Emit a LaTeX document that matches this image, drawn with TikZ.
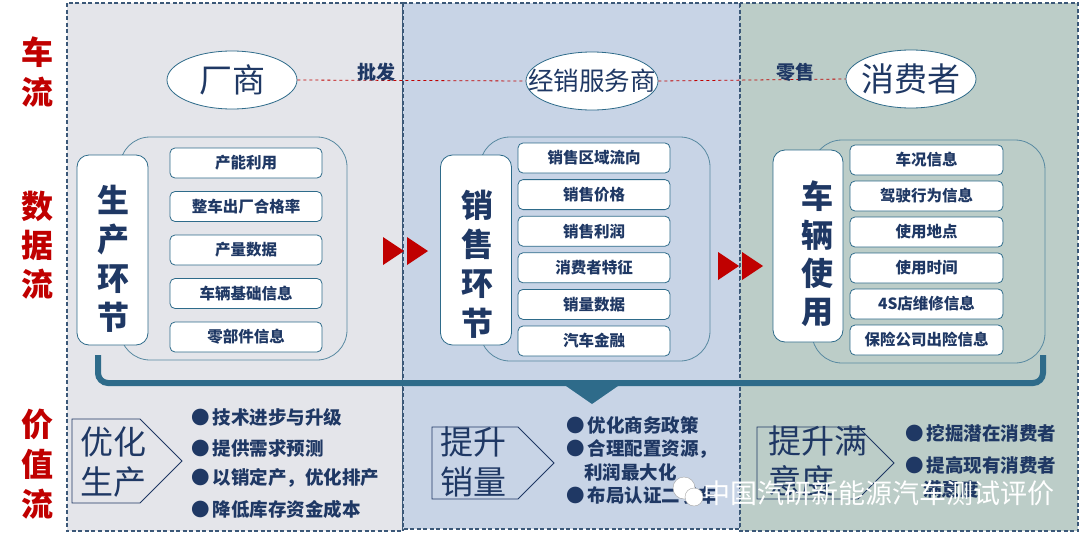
\documentclass[tikz,border=0pt]{standalone}
\usepackage{fontspec}
\setmainfont{Noto Sans CJK SC}
\usetikzlibrary{shapes.geometric}
\definecolor{navy}{HTML}{1F3864}
\definecolor{flowred}{HTML}{C00000}
\definecolor{tealline}{HTML}{2E6B8A}
\definecolor{frameline}{HTML}{3B5878}
\definecolor{panelA}{HTML}{E4E5EA}
\definecolor{panelB}{HTML}{C8D4E6}
\definecolor{panelC}{HTML}{BCCDC8}
\newcommand{\fs}[1]{\fontsize{#1}{#1}\selectfont}
\begin{document}
\begin{tikzpicture}[x=1pt, y=-1pt,
    panel/.style={draw=frameline, line width=1.1pt, dash pattern=on 4pt off 2.5pt},
    party/.style={ellipse, draw=tealline, fill=white, line width=0.8pt, minimum width=130, minimum height=58, inner sep=0pt},
    flowlabel/.style={text=flowred, font=\fs{32}\bfseries, align=center},
    groupbox/.style={draw=tealline!80, line width=0.8pt, rounded corners=30},
    stagebox/.style={draw=tealline, fill=white, line width=0.8pt, rounded corners=12, minimum width=71, inner sep=0pt},
    stagetext/.style={text=navy, font=\bfseries, align=center},
    itembox/.style={draw=tealline, fill=white, line width=0.8pt, rounded corners=5, minimum width=152, minimum height=30, inner sep=0pt, text=navy, font=\fs{15.5}\bfseries},
    goal/.style={draw=navy, line width=0.8pt},
    goaltext/.style={text=navy, font=\fontsize{33}{40}\selectfont, align=left},
    point/.style={anchor=west, text=navy, font=\fs{18.5}\bfseries, inner sep=0pt},
    redarrow/.style={fill=flowred}]
\useasboundingbox (0,0) rectangle (1080,541);
\fill[white] (0,0) rectangle (1080,541);
% panels
\draw[panel, fill=panelA] (67,3) rectangle (403,531);
\draw[panel, fill=panelB] (403,3) rectangle (740,529);
\draw[panel, fill=panelC] (740,3) rectangle (1078,531);
% row titles
\node[flowlabel, font=\fontsize{32}{40}\selectfont\bfseries] (carflow) at (37,72) {车\\流};
\node[flowlabel, font=\fontsize{32}{39}\selectfont\bfseries] (dataflow) at (37,245) {数\\据\\流};
\node[flowlabel, font=\fontsize{32}{40}\selectfont\bfseries] (valueflow) at (37,464) {价\\值\\流};
% car flow
\node[party] (maker) at (232,80) {};
\node[party, minimum width=132] (dealer) at (592,81) {};
\node[party] (buyer) at (911,79) {};
\node[text=navy, font=\fs{33}] at (maker) {厂商};
\node[text=navy, font=\fs{25.5}] at (dealer) {经销服务商};
\node[text=navy, font=\fs{33}] at (buyer) {消费者};
\draw[flowred, dashed, line width=0.8pt] (maker.east) -- (dealer.west);
\draw[flowred, dashed, line width=0.8pt] (dealer.east) -- (buyer.west);
\node[text=navy, font=\fs{19}\bfseries] (wholesale) at (376,72) {批发};
\node[text=navy, font=\fs{19}\bfseries] (retail) at (795,72) {零售};
% data flow
\draw[groupbox, fill=panelA] (120,137) rectangle (347,360);
\draw[groupbox, fill=panelB] (480,137) rectangle (710,361);
\draw[groupbox, fill=panelC] (812,140) rectangle (1045,363);
\node[stagebox, minimum height=190] (make) at (112.5,250) {};
\node[stagebox, minimum height=190] (sell) at (476,250) {};
\node[stagebox, minimum height=192, minimum width=70] (use) at (808,246) {};
\node[stagetext, font=\fontsize{32}{39}\selectfont\bfseries] at (113,259) {生\\产\\环\\节};
\node[stagetext, font=\fontsize{32}{39.3}\selectfont\bfseries] at (477,264) {销\\售\\环\\节};
\node[stagetext, font=\fontsize{32}{38.3}\selectfont\bfseries] at (817,254) {车\\辆\\使\\用};
\foreach \t [count=\i] in {产能利用,整车出厂合格率,产量数据,车辆基础信息,零部件信息}
    \node[itembox] (make\i) at (246,{163+43.5*(\i-1)}) {\t};
\foreach \t [count=\i] in {销售区域流向,销售价格,销售利润,消费者特征,销量数据,汽车金融}
    \node[itembox] (sell\i) at (594,{158+36.6*(\i-1)}) {\t};
\foreach \t [count=\i] in {车况信息,驾驶行为信息,使用地点,使用时间,4S店维修信息,保险公司出险信息}
    \node[itembox, minimum width=153] (use\i) at (926.5,{160+36*(\i-1)}) {\t};
% red arrows
\foreach \x/\y in {383/251, 407/251, 718/266, 742/266}
    \fill[redarrow] (\x,\y-14) -- (\x+21,\y) -- (\x,\y+14) -- cycle;
% bracket
\draw[tealline, line width=6pt, rounded corners=10] (98,355) -- (98,383) -- (1043,383) -- (1043,355);
\fill[tealline] (566,386) -- (618,386) -- (592,404) -- cycle;
% value flow
\draw[goal] (72,419) -- (140,419) -- (182,461) -- (140,503) -- (72,503) -- cycle;
\draw[goal] (432,427) -- (518,427) -- (554,463) -- (518,499) -- (432,499) -- cycle;
\draw[goal] (757,427) -- (858,427) -- (894,463) -- (858,499) -- (757,499) -- cycle;
\node[goaltext] (produce) at (113,462) {优化\\生产};
\node[goaltext] (sales) at (473,462) {提升\\销量};
\node[goaltext, anchor=north west] (satisfy) at (765,422) {提升满\\意度};
\foreach \t/\y in {技术进步与升级/417, 提供需求预测/448, 以销定产，优化排产/478, 降低库存资金成本/509}
    \node[point] at (191,\y) {●\,\t};
\node[point] (policy) at (566,425) {●\,优化商务政策};
\node[point] (resource) at (566,449) {●\,合理配置资源，};
\node[point] (profit) at (584,472) {利润最大化};
\node[point] (usedcar) at (566,495) {●\,布局认证二手车};
\node[point] (mining) at (905,433) {●\,挖掘潜在消费者};
\node[point] (keep) at (905,465) {●\,提高现有消费者};
\node[point] (keep2) at (923,489) {满意度};
% watermark
\fill[white, draw=gray!70] (684,488) circle (11);
\fill[white, draw=gray!70] (694,497) circle (9);
\node[text=white, font=\fs{27}, anchor=west, inner sep=0pt] (mark) at (703,493) {中国汽研新能源汽车测试评价};
\end{tikzpicture}
\end{document}
